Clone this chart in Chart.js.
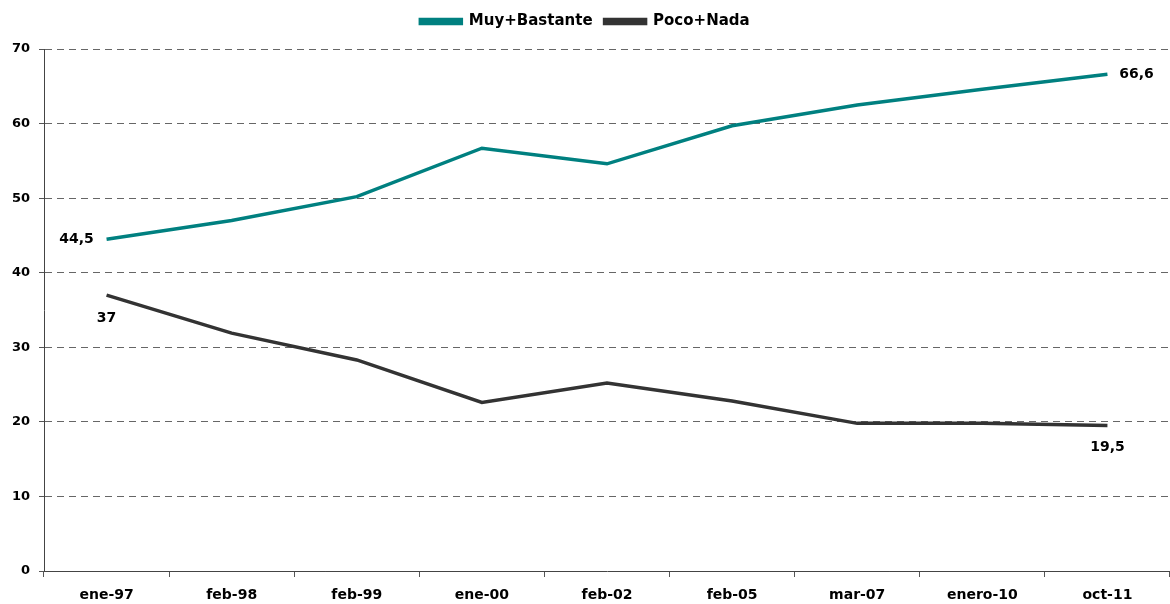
<!DOCTYPE html>
<html lang="es">
<head>
  <meta charset="UTF-8" />
  <title>Muy+Bastante / Poco+Nada</title>
  <style>
    html, body { margin: 0; padding: 0; background: #fff; }
    #wrap { width: 1170px; height: 604px; }
  </style>
</head>
<body>
  <div id="wrap"><canvas id="chart"></canvas></div>

  <script src="https://cdn.jsdelivr.net/npm/chart.js"></script>
  <script>
    const categories = ['ene-97', 'feb-98', 'feb-99', 'ene-00', 'feb-02', 'feb-05', 'mar-07', 'enero-10', 'oct-11'];
    const muyBastante = [44.5, 47.0, 50.2, 56.7, 54.6, 59.7, 62.5, 64.6, 66.6];
    const pocoNada = [37, 31.9, 28.3, 22.6, 25.2, 22.8, 19.8, 19.8, 19.5];

    const fam = '"DejaVu Sans", Arial, sans-serif';
    const font = { family: fam, weight: 'bold', size: 13 };

    // labels on first/last points, offsets in px from the point
    const endLabels = [
      { ds: 0, idx: 0, dx: -30, dy: 0 },
      { ds: 0, idx: 8, dx: 29, dy: 0 },
      { ds: 1, idx: 0, dx: 0, dy: 23 },
      { ds: 1, idx: 8, dx: 0, dy: 22 }
    ];

    const labelPlugin = {
      id: 'endLabels',
      afterDatasetsDraw(chart) {
        const ctx = chart.ctx;
        ctx.save();
        ctx.font = `bold 14px ${fam}`;
        ctx.fillStyle = '#000';
        ctx.textAlign = 'center';
        ctx.textBaseline = 'middle';
        endLabels.forEach(l => {
          const pt = chart.getDatasetMeta(l.ds).data[l.idx];
          const v = chart.data.datasets[l.ds].data[l.idx];
          ctx.fillText(String(v).replace('.', ','), pt.x + l.dx, pt.y + l.dy);
        });
        ctx.restore();
      }
    };

    // extra room under the legend
    const legendGap = {
      id: 'legendGap',
      beforeInit(chart) {
        const fit = chart.legend.fit;
        chart.legend.fit = function () {
          fit.bind(chart.legend)();
          this.height += 10;
        };
      }
    };

    new Chart(document.getElementById('chart'), {
      type: 'line',
      data: {
        labels: categories,
        datasets: [
          {
            label: 'Muy+Bastante',
            data: muyBastante,
            borderColor: '#008080',
            backgroundColor: '#008080',
            borderWidth: 3.5,
            pointRadius: 0,
            tension: 0
          },
          {
            label: 'Poco+Nada',
            data: pocoNada,
            borderColor: '#333333',
            backgroundColor: '#333333',
            borderWidth: 3.5,
            pointRadius: 0,
            tension: 0
          }
        ]
      },
      options: {
        responsive: true,
        maintainAspectRatio: false,
        animation: false,
        layout: { padding: { left: 0, right: 0, top: 2, bottom: 0 } },
        plugins: {
          legend: {
            position: 'top',
            labels: {
              color: '#000',
              font: { family: fam, weight: 'bold', size: 15 },
              boxWidth: 41,
              boxHeight: 4,
              padding: 12
            }
          },
          tooltip: { enabled: false }
        },
        scales: {
          x: {
            offset: true,
            grid: {
              offset: true,
              drawOnChartArea: false,
              drawTicks: true,
              tickLength: 6,
              tickColor: '#555'
            },
            border: { color: '#444', width: 1 },
            ticks: { color: '#000', font: { family: fam, weight: 'bold', size: 14 }, padding: 10, maxRotation: 0 },
            afterFit(scale) { scale.height = 33; }
          },
          y: {
            min: 0,
            max: 70,
            ticks: { stepSize: 10, color: '#000', font: font, padding: 9 },
            grid: {
              color: '#666',
              tickLength: 5,
              tickColor: '#555',
              tickBorderDash: []
            },
            border: { color: '#444', width: 1, dash: [7, 5] },
            afterFit(scale) { scale.width = 44; }
          }
        }
      },
      plugins: [labelPlugin, legendGap]
    });
  </script>
</body>
</html>
